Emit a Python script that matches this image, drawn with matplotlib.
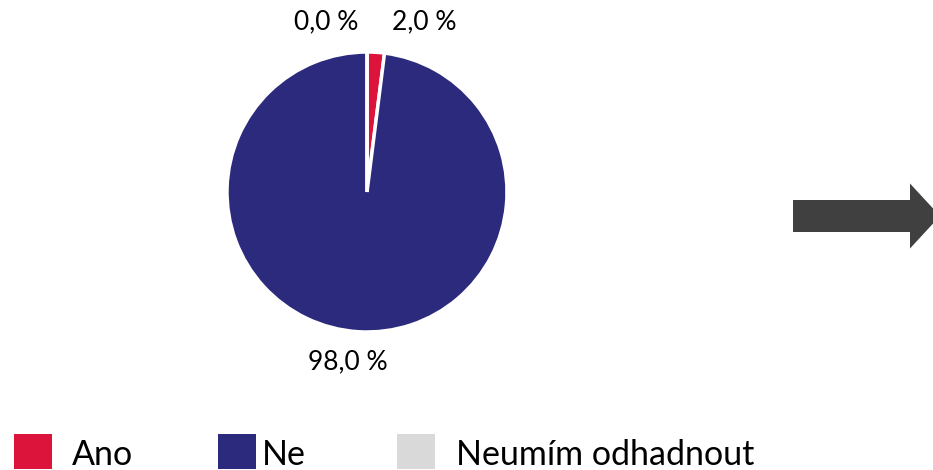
import matplotlib
matplotlib.use("Agg")
import matplotlib.pyplot as plt
from matplotlib.patches import Rectangle, FancyArrow

categories = ["Ano", "Ne", "Neumím odhadnout"]
values = [2.0, 98.0, 0.0]
colors = ["#DC143C", "#2B2A7C", "#D9D9D9"]
label_texts = ["2,0 %", "98,0 %", "0,0 %"]

plt.rcParams['font.family'] = ['Lato', 'DejaVu Sans']

W, H = 933, 470
fig = plt.figure(figsize=(W / 100, H / 100), dpi=100)

cx, cy, r = 367, 192, 140
ax = fig.add_axes([(cx - r) / W, (H - cy - r) / H, 2 * r / W, 2 * r / H])
ax.pie(values, colors=colors, startangle=90, counterclock=False,
       wedgeprops=dict(edgecolor="white", linewidth=2.5))
ax.set_xlim(-1, 1)
ax.set_ylim(-1, 1)
ax.set_aspect("equal")
ax.axis("off")

# overlay axes in pixel coordinates
ov = fig.add_axes([0, 0, 1, 1], zorder=-1)
ov.set_xlim(0, W)
ov.set_ylim(H, 0)
ov.axis("off")

# data labels
label_pos = {"2,0 %": (424, 22), "98,0 %": (348, 362), "0,0 %": (326, 22)}
for t in label_texts:
    x, y = label_pos[t]
    ov.text(x, y, t, ha="center", va="center", fontsize=19, color="#000000")

# arrow
ov.add_patch(FancyArrow(793, 216, 117, 0, width=32, head_width=65, head_length=30,
                        length_includes_head=False, color="#404040", linewidth=0))

# legend
leg_x = [14, 218, 397]
text_x = [72, 262, 456]
for c, col, lx, tx in zip(categories, colors, leg_x, text_x):
    ov.add_patch(Rectangle((lx, 434), 38, 35, color=col, linewidth=0, clip_on=False))
    ov.text(tx, 455, c, ha="left", va="center", fontsize=24.5, color="#000000")

fig.savefig("out.png", dpi=100)
